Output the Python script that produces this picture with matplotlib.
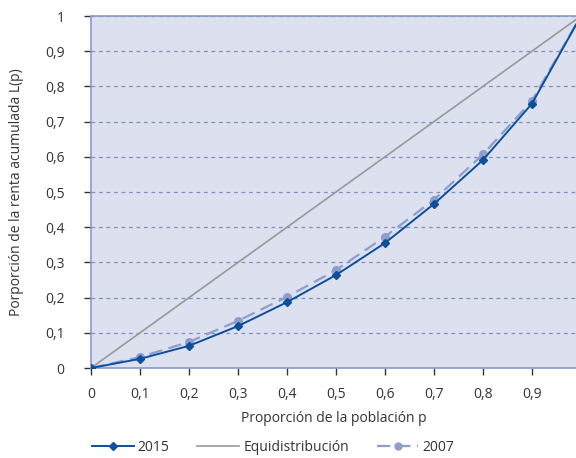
import matplotlib
matplotlib.use("Agg")
import matplotlib.pyplot as plt
from matplotlib.lines import Line2D

plt.rcParams['font.family'] = ['Open Sans', 'DejaVu Sans']

p = [0, 0.1, 0.2, 0.3, 0.4, 0.5, 0.6, 0.7, 0.8, 0.9, 1.0]
l2015 = [0, 0.026, 0.063, 0.119, 0.187, 0.264, 0.355, 0.466, 0.591, 0.751, 1.0]
l2007 = [0, 0.031, 0.074, 0.134, 0.202, 0.278, 0.373, 0.478, 0.607, 0.759, 1.0]
equi = [0, 0.1, 0.2, 0.3, 0.4, 0.5, 0.6, 0.7, 0.8, 0.9, 1.0]
xticks = [0, 0.1, 0.2, 0.3, 0.4, 0.5, 0.6, 0.7, 0.8, 0.9]
xticklabels = ["0", "0,1", "0,2", "0,3", "0,4", "0,5", "0,6", "0,7", "0,8", "0,9"]
yticks = [0, 0.1, 0.2, 0.3, 0.4, 0.5, 0.6, 0.7, 0.8, 0.9, 1.0]
yticklabels = ["0", "0,1", "0,2", "0,3", "0,4", "0,5", "0,6", "0,7", "0,8", "0,9", "1"]

c2015 = "#0c4f9b"
c2007 = "#8e9dcc"
cgray = "#999999"
bg = "#dde0ee"
spine = "#8b9acb"

fig = plt.figure(figsize=(5.76, 4.58), dpi=100)
ax = fig.add_axes([0.158, 0.1965, 0.842, 0.7685])
ax.set_facecolor(bg)

for y in yticks[1:]:
    ax.axhline(y, color="#7d8fc6", lw=0.9, ls=(0, (3, 3)), zorder=1)

ax.plot(p, equi, color=cgray, lw=1.2, zorder=2)
ax.plot(p, l2007, color=c2007, lw=1.6, ls=(0, (6, 3)), marker='o', ms=5.5, zorder=3)
ax.plot(p, l2015, color=c2015, lw=1.4, marker='D', ms=4.5, zorder=4)

ax.set_xlim(0, 0.99)
ax.set_ylim(0, 1.0)
ax.set_xticks(xticks)
ax.set_xticklabels(xticklabels)
ax.set_yticks(yticks)
ax.set_yticklabels(yticklabels)
ax.tick_params(axis='both', direction='out', length=5, width=1, color='#333333',
               labelsize=10, labelcolor='#333333')
ax.tick_params(axis='x', pad=9)
ax.tick_params(axis='y', pad=14)
for s in ['left', 'top', 'bottom']:
    ax.spines[s].set_color(spine)
    ax.spines[s].set_linewidth(1.2)
ax.spines['right'].set_visible(False)

ax.set_xlabel("Proporción de la población p", fontsize=10, color='#333333', labelpad=6)
ax.set_ylabel("Porporción de la renta acumulada L(p)", fontsize=10, color='#333333', labelpad=15)

handles = [
    Line2D([0], [0], color=c2015, lw=1.4, marker='D', ms=4.5),
    Line2D([0], [0], color=cgray, lw=1.2),
    Line2D([0], [0], color=c2007, lw=1.6, ls=(0, (6, 3)), marker='o', ms=5),
]
fig.legend(handles, ["2015", "Equidistribución", "2007"], loc='lower left',
           bbox_to_anchor=(0.138, -0.02), ncol=3, frameon=False, fontsize=10,
           handlelength=3.0, columnspacing=2.0, handletextpad=0.3,
           labelcolor='#333333')

fig.savefig("out.png", dpi=100)
